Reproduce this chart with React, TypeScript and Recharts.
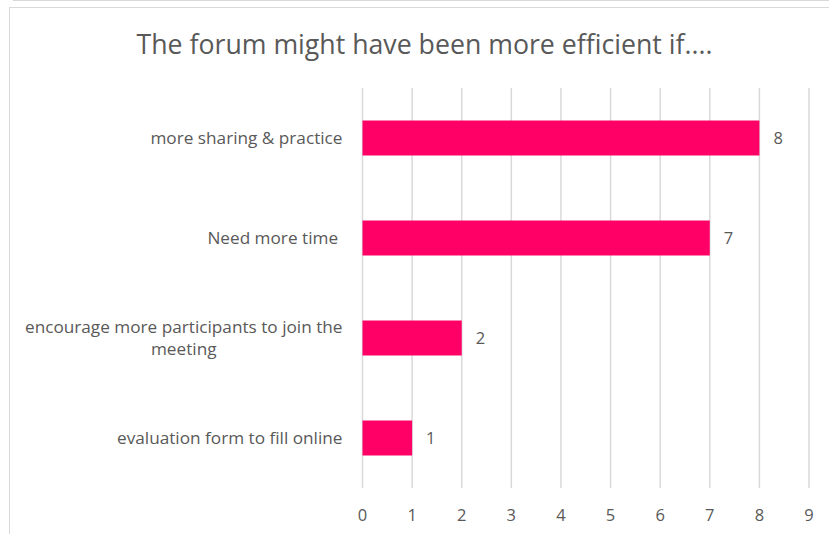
import { BarChart, Bar, XAxis, YAxis, CartesianGrid, LabelList } from "recharts";

// Survey answers, top to bottom
const CATEGORIES = [
  "more sharing & practice",
  "Need more time ",
  "encourage more participants to join the meeting",
  "evaluation form to fill online",
];
const COUNTS = [8, 7, 2, 1];
const X_TICKS = [0, 1, 2, 3, 4, 5, 6, 7, 8, 9];

const TITLE = "The forum might have been more efficient if....";
const FONT = "'Open Sans', Lato, sans-serif";
const BAR_COLOR = "#ff0066";
const TEXT_COLOR = "#595959";
const GRID_COLOR = "#d9d9d9";

const data = CATEGORIES.map((name, i) => ({ name, value: COUNTS[i] }));

// Excel wraps long category labels; lines are centred on each other
function wrapLabel(label: string, maxChars: number): string[] {
  if (label.length <= maxChars) return [label];
  const words = label.split(" ");
  const lines: string[] = [];
  let cur = "";
  for (const w of words) {
    const next = cur ? cur + " " + w : w;
    if (next.length > maxChars && cur) {
      lines.push(cur);
      cur = w;
    } else {
      cur = next;
    }
  }
  if (cur) lines.push(cur);
  return lines;
}

function measure(text: string, size: number): number {
  const c = document.createElement("canvas").getContext("2d");
  if (!c) return text.length * size * 0.5;
  c.font = `${size}px 'Open Sans'`;
  return c.measureText(text).width;
}

function CategoryTick(props: any) {
  const { x, y, payload } = props;
  const size = 17.2;
  const lines = wrapLabel(payload.value, 40);
  if (lines.length === 1) {
    return (
      <text
        x={x}
        y={y}
        dy={5.5}
        textAnchor="end"
        fill={TEXT_COLOR}
        fontSize={size}
        fontFamily={FONT}
        style={{ whiteSpace: "pre" }}
      >
        {payload.value}
      </text>
    );
  }
  const widest = Math.max(...lines.map((l) => measure(l, size)));
  const cx = x - widest / 2;
  const lh = 22;
  const top = y - ((lines.length - 1) * lh) / 2;
  return (
    <text textAnchor="middle" fill={TEXT_COLOR} fontSize={size} fontFamily={FONT}>
      {lines.map((l, i) => (
        <tspan key={i} x={cx} y={top + i * lh} dy={5.5}>
          {l}
        </tspan>
      ))}
    </text>
  );
}

export default function App() {
  return (
    <div
      style={{
        position: "absolute",
        left: 0,
        top: 0,
        width: 829,
        height: 534,
        overflow: "hidden",
        background: "#fff",
        fontFamily: FONT,
      }}
    >
      {/* edge of the previous chart */}
      <div
        style={{
          position: "absolute",
          left: 13,
          top: 0,
          width: 830,
          height: 1,
          background: GRID_COLOR,
        }}
      />
      {/* chart frame */}
      <div
        style={{
          position: "absolute",
          left: 9,
          top: 7,
          width: 900,
          height: 600,
          border: `1px solid ${GRID_COLOR}`,
        }}
      />
      <div
        style={{
          position: "absolute",
          left: 0,
          top: 26,
          width: 849,
          textAlign: "center",
          fontSize: 26.7,
          lineHeight: "36px",
          color: TEXT_COLOR,
          fontFamily: FONT,
        }}
      >
        {TITLE}
      </div>
      <div style={{ position: "absolute", left: 0, top: 0 }}>
        <BarChart
          width={829}
          height={534}
          data={data}
          layout="vertical"
          margin={{ top: 88, right: 20, bottom: 16, left: 0 }}
          barCategoryGap="32.5%"
        >
          <CartesianGrid
            horizontal={false}
            vertical
            stroke={GRID_COLOR}
            strokeWidth={1.5}
          />
          <XAxis
            type="number"
            domain={[0, 9]}
            ticks={X_TICKS}
            interval={0}
            axisLine={false}
            tickLine={false}
            tickSize={0}
            tickMargin={21}
            tick={{ fill: TEXT_COLOR, fontSize: 16.5, fontFamily: FONT }}
          />
          <YAxis
            type="category"
            dataKey="name"
            width={362.5}
            axisLine={false}
            tickLine={false}
            tickSize={0}
            tickMargin={20}
            tick={<CategoryTick />}
          />
          <Bar dataKey="value" fill={BAR_COLOR} isAnimationActive={false}>
            <LabelList
              dataKey="value"
              position="right"
              offset={14}
              fill={TEXT_COLOR}
              fontSize={16.5}
              fontFamily={FONT}
            />
          </Bar>
        </BarChart>
      </div>
    </div>
  );
}
